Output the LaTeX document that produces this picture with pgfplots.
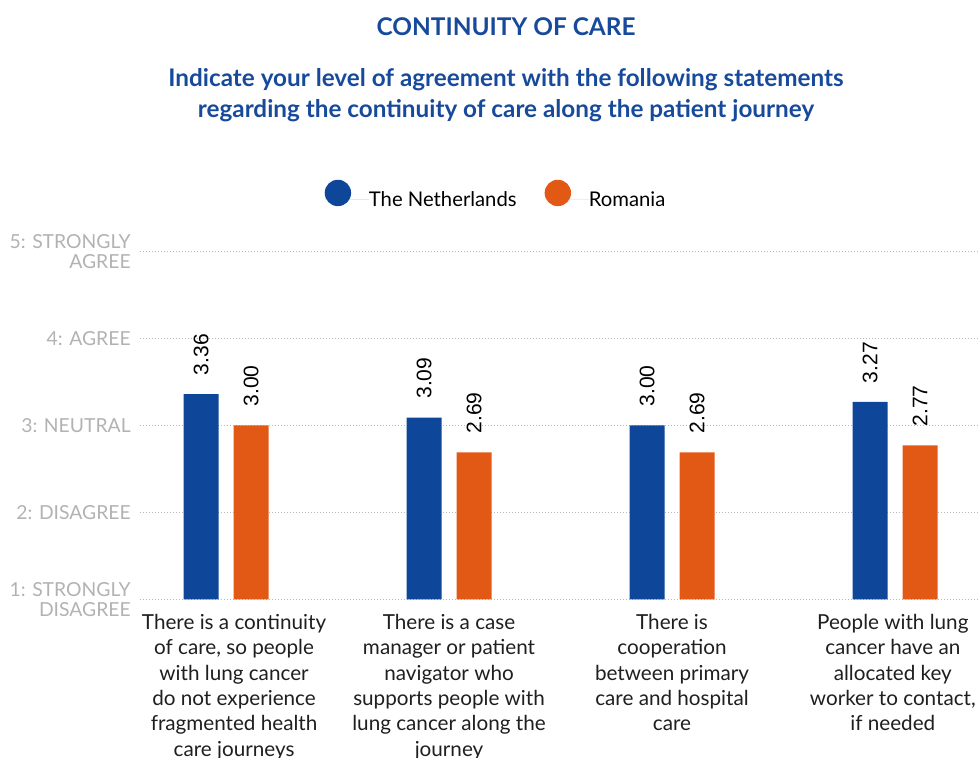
\documentclass[border=0pt]{standalone}
\usepackage{pgfplots}
\pgfplotsset{compat=1.18}
\usepackage{fontspec}
\setmainfont{Lato}
\newfontfamily\numfont{Liberation Sans}
\definecolor{nlblue}{RGB}{14,71,153}
\definecolor{roorange}{RGB}{226,89,22}
\definecolor{titleblue}{RGB}{24,74,156}
\definecolor{ticgray}{RGB}{178,178,178}
\definecolor{gridgray}{RGB}{185,185,185}
\begin{document}
\begin{tikzpicture}
\begin{axis}[
  x=167.25pt, y=65.25pt,
  xmin=-0.386, xmax=3.372, ymin=1, ymax=5,
  clip mode=individual,
  ybar=11.25pt, bar width=26.25pt,
  axis line style={draw=none},
  major tick length=0pt,
  ytick={1,2,3,4,5},
  yticklabels={{1: STRONGLY\\DISAGREE},{2: DISAGREE},{3: NEUTRAL},{4: AGREE},{5: STRONGLY\\AGREE}},
  yticklabel style={align=right, anchor=east, inner sep=0pt, xshift=-6.75pt, font=\fontsize{14.5}{15}\selectfont, text=ticgray},
  ymajorgrids,
  grid style={gridgray, line width=0.75pt, dash pattern=on 0.75pt off 1.5pt},
  xtick={0.036,1,2,2.99},
  xticklabels={
    {There is a continuity\\of care, so people\\with lung cancer\\do not experience\\fragmented health\\care journeys},
    {There is a case\\manager or patient\\navigator who\\supports people with\\lung cancer along the\\journey},
    {There is\\cooperation\\between primary\\care and hospital\\care},
    {People with lung\\cancer have an\\allocated key\\worker to contact,\\if needed}},
  xticklabel style={align=center, anchor=north, inner sep=0pt, yshift=-11pt, font=\fontsize{15.5}{19}\selectfont, text=black!88},
  legend style={at={(0.4237,1.1653)}, anchor=center, draw=none, fill=none,
    legend columns=2, font=\fontsize{15.2}{15}\selectfont,
    nodes={inner sep=0pt},
    /tikz/every even column/.append style={column sep=21pt}},
  legend image code/.code={\fill[#1] (9.75pt,5pt) circle (9.9pt); \path (0pt,0pt) -- (33pt,0pt);},
  nodes near coords={\numfont\pgfmathprintnumber[assume math mode=true,fixed,fixed zerofill,precision=2]{\pgfplotspointmeta}},
  every node near coord/.append style={rotate=90, anchor=west, inner xsep=14pt, inner ysep=0pt, font=\numfont\fontsize{15.8}{16}\selectfont, text=black},
]
\addplot[fill=nlblue, draw=none] coordinates {(0,3.36) (1,3.09) (2,3.00) (3,3.27)};
\addlegendentry{The Netherlands}
\addplot[fill=roorange, draw=none] coordinates {(0,3.00) (1,2.69) (2,2.69) (3,2.77)};
\addlegendentry{Romania}
\node[font=\bfseries\fontsize{18.3}{20}\selectfont, text=titleblue] at (axis cs:1.2556,7.586) {CONTINUITY OF CARE};
\node[align=center, font=\bfseries\fontsize{18.2}{23.3}\selectfont, text=titleblue] at (axis cs:1.2556,6.799) {Indicate your level of agreement with the following statements\\regarding the continuity of care along the patient journey};
\coordinate (bbA) at (axis cs:-1.0135,7.89);
\coordinate (bbB) at (axis cs:3.372,-0.821);
\end{axis}
\pgfresetboundingbox
\path[use as bounding box] (bbA) rectangle (bbB);
\end{tikzpicture}
\end{document}
